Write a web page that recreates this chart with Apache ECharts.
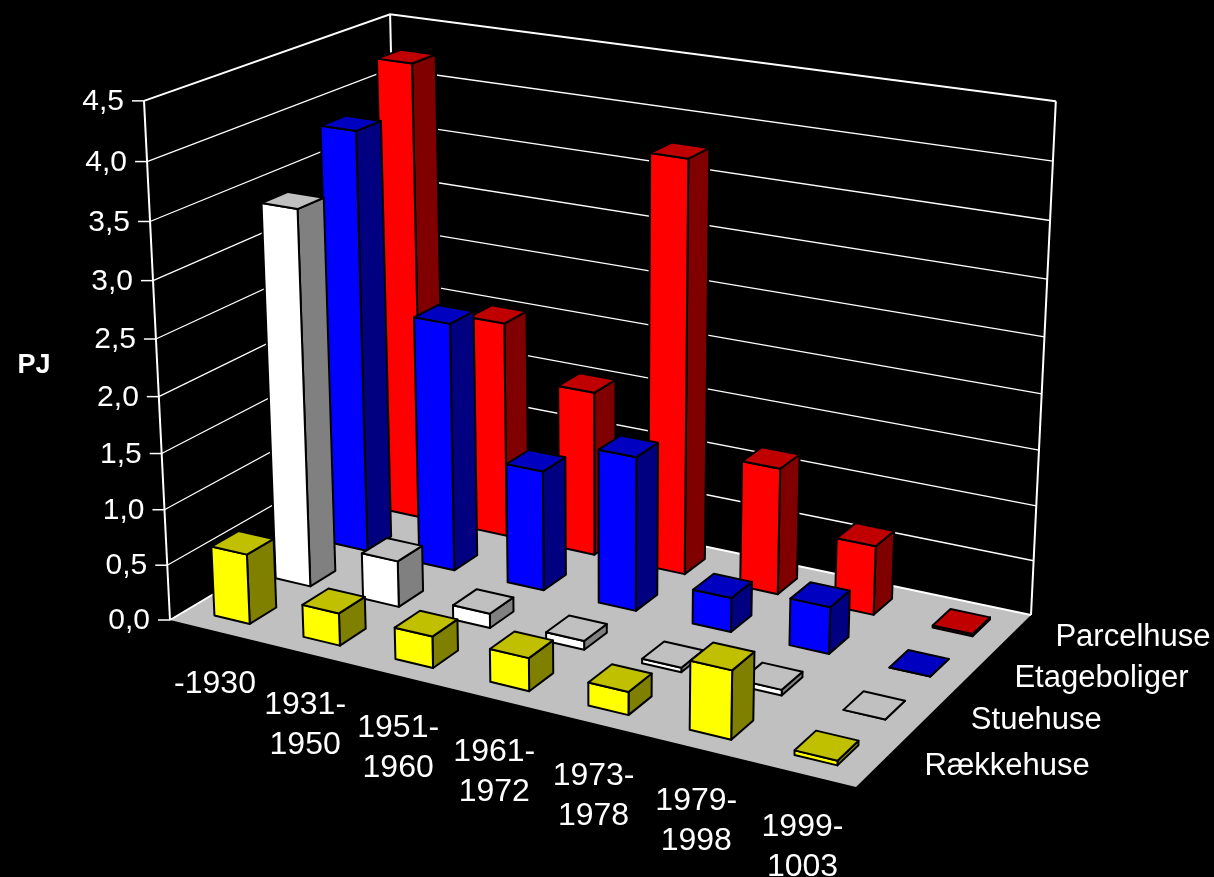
<!DOCTYPE html>
<html>
<head>
<meta charset="utf-8">
<title>PJ</title>
<script src="https://cdn.jsdelivr.net/npm/echarts@6/dist/echarts.min.js"></script>
<style>
  html, body { margin: 0; padding: 0; background: #000; }
  #chart { width: 1214px; height: 877px; }
</style>
</head>
<body>
<div id="chart"></div>
<script>
// data
const categories = ['-1930', '1931-\n1950', '1951-\n1960', '1961-\n1972', '1973-\n1978', '1979-\n1998', '1999-\n1003'];
const yTicks = [0, 0.5, 1, 1.5, 2, 2.5, 3, 3.5, 4, 4.5];
const seriesNames = ['Rækkehuse', 'Stuehuse', 'Etageboliger', 'Parcelhuse'];
const raekkehuse = [0.63, 0.29, 0.28, 0.29, 0.2, 0.59, 0.04];
const stuehuse = [3.4, 0.42, 0.13, 0.08, 0.04, 0.05, 0];
const etageboliger = [3.86, 2.28, 1.1, 1.4, 0.31, 0.42, 0];
const parcelhuse = [4.26, 2.02, 1.53, 3.77, 1.16, 0.63, 0.02];

const faceColors = ['#ffff00', '#ffffff', '#0000ff', '#ff0000'];
const topColors = ['#c0c000', '#c0c0c0', '#0000c0', '#c00000'];
const sideColors = ['#808000', '#808080', '#000080', '#800000'];

const FONT = '"Liberation Sans", Arial, sans-serif';
const BAR_U = 0.2; // half bar width, share of a category cell
const BAR_V = 0.215; // half bar depth, share of a row

// floor corners of the 3d box on screen: front left, front right, back right, back left
const Q = [[170, 620], [856, 787], [1031, 615], [401, 482.5]];
const VANISH = [608, 9371]; // where the uprights meet
const UP = -0.056; // height of the box in homogeneous units

// unit square -> floor quad
const dx1 = Q[1][0] - Q[2][0], dx2 = Q[3][0] - Q[2][0], sx = Q[0][0] - Q[1][0] + Q[2][0] - Q[3][0];
const dy1 = Q[1][1] - Q[2][1], dy2 = Q[3][1] - Q[2][1], sy = Q[0][1] - Q[1][1] + Q[2][1] - Q[3][1];
const den = dx1 * dy2 - dx2 * dy1;
const g = (sx * dy2 - dx2 * sy) / den;
const h0 = (dx1 * sy - sx * dy1) / den;
const a = Q[1][0] - Q[0][0] + g * Q[1][0], b = Q[3][0] - Q[0][0] + h0 * Q[3][0];
const d = Q[1][1] - Q[0][1] + g * Q[1][1], e = Q[3][1] - Q[0][1] + h0 * Q[3][1];

function project(u, v, h) {
    const w = g * u + h0 * v + 1 + UP * h;
    const x = a * u + b * v + Q[0][0] + UP * h * VANISH[0];
    const y = d * u + e * v + Q[0][1] + UP * h * VANISH[1];
    return [x / w, y / w];
}

function poly(points, fill, lineWidth) {
    return {
        type: 'polygon',
        shape: { points: points },
        style: { fill: fill, stroke: '#000', lineWidth: lineWidth, lineJoin: 'round' }
    };
}

function line(points, width, color) {
    return {
        type: 'polyline',
        shape: { points: points },
        style: { fill: null, stroke: color || '#fff', lineWidth: width }
    };
}

function label(text, x, y, align, size) {
    return {
        type: 'text',
        style: {
            text: text, x: x, y: y, align: align, verticalAlign: 'middle',
            fill: '#fff', font: size + 'px ' + FONT, lineHeight: 40
        }
    };
}

// category scale gives u, value scale gives h
function toBox(params, api, i, val) {
    const c = params.coordSys;
    const p = api.coord([i, val]);
    return [(p[0] - c.x) / c.width, (c.y + c.height - p[1]) / c.height];
}

function renderBar(row) {
    return function (params, api) {
        const pos = toBox(params, api, api.value(0), api.value(1));
        const uc = pos[0], hh = pos[1];
        const vc = (row + 0.5) / seriesNames.length;
        const u0 = uc - BAR_U / categories.length, u1 = uc + BAR_U / categories.length;
        const v0 = vc - BAR_V / seriesNames.length, v1 = vc + BAR_V / seriesNames.length;
        return {
            type: 'group',
            children: [
                poly([project(u1, v0, 0), project(u1, v1, 0), project(u1, v1, hh), project(u1, v0, hh)], sideColors[row], 2),
                poly([project(u0, v0, 0), project(u1, v0, 0), project(u1, v0, hh), project(u0, v0, hh)], faceColors[row], 2),
                poly([project(u0, v0, hh), project(u1, v0, hh), project(u1, v1, hh), project(u0, v1, hh)], topColors[row], 2)
            ]
        };
    };
}

function renderFloor(params, api) {
    return {
        type: 'group',
        children: [
            { type: 'polygon', shape: { points: [project(0, 0, 0), project(1, 0, 0), project(1, 1, 0), project(0, 1, 0)] }, style: { fill: '#c0c0c0' } },
            line([project(0, 1, 0), project(0, 1, 1)], 2),
            line([project(0, 0, 0), project(0, 0, 1)], 2),
            line([project(1, 1, 0), project(1, 1, 1)], 2)
        ]
    };
}

function renderTick(params, api) {
    const val = api.value(1);
    const hh = toBox(params, api, 0, val)[1];
    const edge = val === 0 || val === yTicks[yTicks.length - 1];
    const base = project(0, 0, hh);
    return {
        type: 'group',
        children: [
            line([project(0, 0, hh), project(0, 1, hh), project(1, 1, hh)], edge ? 2 : 1.3),
            line([[base[0] - 12, base[1]], base], 1.5),
            label(val.toFixed(1).replace('.', ','), base[0] - 20, base[1] + 1, 'right', 30)
        ]
    };
}

function renderCategoryLabel(params, api) {
    const i = api.value(0);
    const uc = toBox(params, api, i, 0)[0];
    const p = project(uc, 0, 0);
    return label(categories[i], p[0] + 1, p[1] + (i === 0 ? 53 : 73), 'center', 32);
}

function renderDepthLabel(params, api) {
    const row = api.value(0);
    const p = project(1, (row + 0.5) / seriesNames.length, 0);
    return label(seriesNames[row], p[0] + 44, p[1] + 3.5, 'left', 31);
}

const barValues = [raekkehuse, stuehuse, etageboliger, parcelhuse];

// back row first so the front rows paint over it
const barSeries = [3, 2, 1, 0].map(row => ({
    name: seriesNames[row],
    type: 'custom',
    renderItem: renderBar(row),
    data: barValues[row].map((v, i) => [i, v]),
    encode: { x: 0, y: 1 },
    silent: true
}));

const chart = echarts.init(document.getElementById('chart'));
chart.setOption({
    animation: false,
    backgroundColor: '#000',
    grid: { left: 0, right: 0, top: 0, bottom: 0 },
    xAxis: { type: 'category', data: categories, show: false },
    yAxis: { type: 'value', min: 0, max: 4.5, interval: 0.5, show: false },
    graphic: [{
        type: 'text',
        style: { text: 'PJ', x: 34, y: 366, align: 'center', verticalAlign: 'middle', fill: '#fff', font: 'bold 27px ' + FONT }
    }],
    series: [
        { type: 'custom', renderItem: renderFloor, data: [[0, 0]], encode: { x: 0, y: 1 }, silent: true },
        { type: 'custom', renderItem: renderTick, data: yTicks.map(t => [0, t]), encode: { x: 0, y: 1 }, silent: true },
        { type: 'custom', renderItem: renderCategoryLabel, data: categories.map((c, i) => [i, 0]), encode: { x: 0, y: 1 }, silent: true },
        { type: 'custom', renderItem: renderDepthLabel, data: seriesNames.map((n, i) => [i, 0]), encode: { x: 0, y: 1 }, silent: true }
    ].concat(barSeries)
});
</script>
</body>
</html>
